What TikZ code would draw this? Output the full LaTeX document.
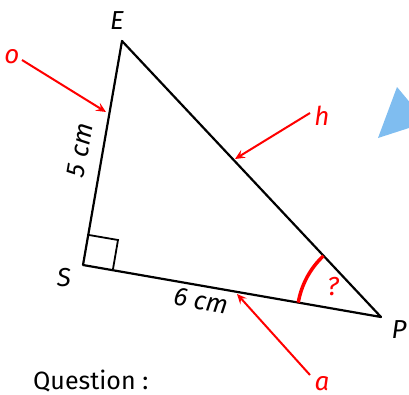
\documentclass[tikz,border=0pt]{standalone}
\usepackage{fontspec}
\setmainfont{Fira Sans}
\usetikzlibrary{arrows.meta,calc}
\definecolor{skyb}{HTML}{7FBDF0}
\begin{document}
\begin{tikzpicture}[x=1pt,y=-1pt,
  side/.style={line width=2.2pt,black,line join=round},
  redarrow/.style={red,line width=2pt,-{Stealth[length=10pt,width=9pt,inset=4pt]}},
  lbl/.style={font=\fontsize{26}{28}\selectfont\itshape},
  rlbl/.style={lbl,text=red}]
\useasboundingbox (0,0) rectangle (409,394);
\begin{scope}
\clip (0,0) rectangle (409,394);
\fill[skyb] (378,138) -- (397,87) -- (412,105) -- (412,127) -- cycle;
\end{scope}
\coordinate (E) at (122,41);
\coordinate (S) at (83,265);
\coordinate (P) at (381,317);
\draw[side] (E) -- (S) -- (P) -- cycle;
\draw[line width=1.8pt] (89,235) -- (118,240) -- (113,269);
\draw[red,line width=3.5pt] ($(P)!84pt!(S)$) arc[start angle=170.1,end angle=133.2,radius=84pt];
\node[rlbl,inner sep=0pt] (q) at (333,287) {?};
\node[lbl,inner sep=0pt] (lE) at (117,21) {E};
\node[lbl,inner sep=0pt] (lS) at (64,278) {S};
\node[lbl,inner sep=0pt] (lP) at (399,330) {P};
\node[lbl,rotate=80,inner sep=0pt] (l5) at (80,150) {5 cm};
\node[lbl,rotate=-10,inner sep=0pt] (l6) at (201,301) {6 cm};
\node[rlbl,inner sep=0pt] (o) at (12,57) {o};
\node[rlbl,inner sep=0pt] (h) at (322,116) {h};
\node[rlbl,inner sep=0pt] (a) at (322,384) {a};
\coordinate (ot) at (106,112);
\coordinate (ht) at (235,159);
\coordinate (at) at (237,294);
\draw[redarrow] (22,60) -- (ot);
\draw[redarrow] (310,113) -- (ht);
\draw[redarrow] (310,375) -- (at);
\node[font=\fontsize{25}{28}\selectfont,anchor=base west,inner sep=0pt] (qu) at (33,389.5) {Question :};
\end{tikzpicture}
\end{document}
